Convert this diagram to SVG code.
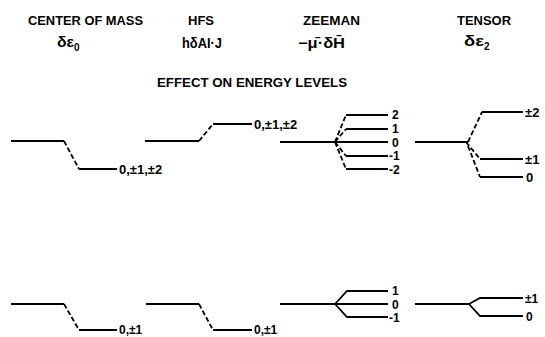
<svg xmlns="http://www.w3.org/2000/svg" width="545" height="337" viewBox="0 0 545 337">
<style>
.t{font-family:"Liberation Sans","DejaVu Sans",sans-serif;font-weight:bold;fill:#000}
.h{font-size:12.5px}
.f{font-size:14px}
.l{font-size:13px}
.z{font-size:12px}
.s{stroke:#000;stroke-width:1.8;fill:none}
.d{stroke:#000;stroke-width:1.8;fill:none;stroke-dasharray:5 2.5}
</style>
<rect width="545" height="337" fill="#fff"/>
<g id="headers">
<text class="t h" x="28" y="25" textLength="115" lengthAdjust="spacingAndGlyphs">CENTER OF MASS</text>
<text class="t f" x="57" y="47" textLength="17" lengthAdjust="spacingAndGlyphs">δε</text>
<text class="t" x="74" y="51" font-size="10">0</text>
<text class="t h" x="188" y="25" textLength="26" lengthAdjust="spacingAndGlyphs">HFS</text>
<text class="t f" x="182" y="48" textLength="40" lengthAdjust="spacingAndGlyphs">hδAI·J</text>
<text class="t h" x="303" y="25" textLength="57" lengthAdjust="spacingAndGlyphs">ZEEMAN</text>
<text class="t f" x="298" y="48" textLength="47" lengthAdjust="spacingAndGlyphs">−μ̄·δH̄</text>
<text class="t h" x="457" y="25" textLength="54" lengthAdjust="spacingAndGlyphs">TENSOR</text>
<text class="t f" x="464" y="46" textLength="20" lengthAdjust="spacingAndGlyphs">δε</text>
<text class="t" x="484" y="50" font-size="10">2</text>
<text class="t h" x="157" y="87" textLength="190" lengthAdjust="spacingAndGlyphs">EFFECT ON ENERGY LEVELS</text>
</g>
<g id="cm-top">
<path class="s" d="M11 141H64"/>
<path class="d" d="M64 141L79 169"/>
<path class="s" d="M79 169H117"/>
<text class="t l" x="119" y="174">0,±1,±2</text>
</g>
<g id="hfs-top">
<path class="s" d="M145 141H199"/>
<path class="d" d="M199 141L213 124"/>
<path class="s" d="M213 124H252"/>
<text class="t l" x="254" y="129">0,±1,±2</text>
</g>
<g id="zeeman-top">
<path class="s" d="M280 142H388"/>
<path class="d" d="M335 142L346 115M335 142L346 129M335 142L346 156M335 142L346 169"/>
<path class="s" d="M346 115H388M346 129H388M346 156H388M346 169H388"/>
<text class="t z" x="392" y="119">2</text>
<text class="t z" x="392" y="133">1</text>
<text class="t z" x="392" y="146.5">0</text>
<text class="t z" x="389" y="160">-1</text>
<text class="t z" x="389" y="173.5">-2</text>
</g>
<g id="tensor-top">
<path class="s" d="M415 142H468"/>
<path class="d" d="M468 142L482 112M466 142L480 159M468 146L480 177"/>
<path class="s" d="M482 112H523M480 159H523M480 177H523"/>
<text class="t l" x="525" y="117">±2</text>
<text class="t l" x="525" y="164">±1</text>
<text class="t l" x="526" y="182">0</text>
</g>
<g id="cm-bottom">
<path class="s" d="M11 304H64"/>
<path class="d" d="M64 304L79 330"/>
<path class="s" d="M79 330H117"/>
<text class="t z" x="119" y="334">0,±1</text>
</g>
<g id="hfs-bottom">
<path class="s" d="M146 304H199"/>
<path class="d" d="M199 304L213 330"/>
<path class="s" d="M213 330H252"/>
<text class="t z" x="254" y="334">0,±1</text>
</g>
<g id="zeeman-bottom">
<path class="s" d="M280 304H388"/>
<path class="s" d="M335 304L347 291H388M335 304L347 317H388"/>
<text class="t z" x="392" y="295">1</text>
<text class="t z" x="392" y="308.5">0</text>
<text class="t z" x="389" y="322">-1</text>
</g>
<g id="tensor-bottom">
<path class="s" d="M415 304H469"/>
<path class="s" d="M469 304L480 298H523M469 304L480 316H523"/>
<text class="t z" x="525" y="302.5">±1</text>
<text class="t z" x="526" y="320.5">0</text>
</g>
</svg>
